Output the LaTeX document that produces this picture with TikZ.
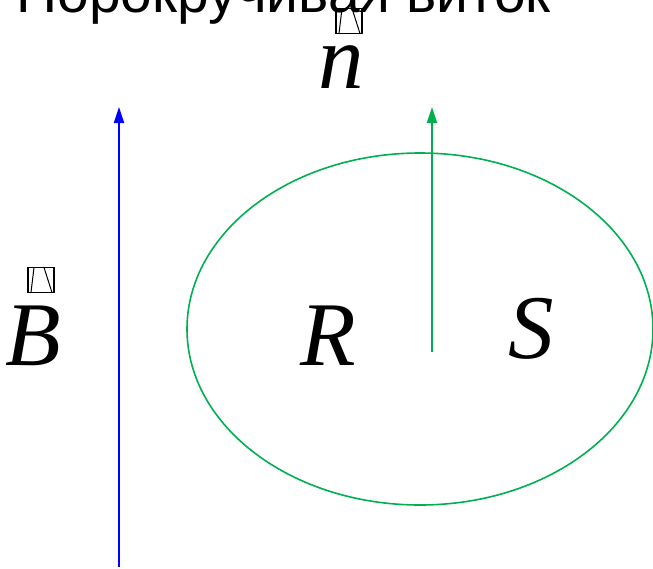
\documentclass[tikz,border=0pt]{standalone}
\usepackage{fontspec}
\setmainfont{Liberation Serif}
\newfontfamily\headfont{Liberation Sans}
\usetikzlibrary{arrows.meta,shapes.geometric}

\definecolor{loopgreen}{RGB}{0,176,80}

\begin{document}
\begin{tikzpicture}[
    x=1pt, y=-1pt,
    vec/.style={-{Triangle[length=16pt, width=10pt]}, line width=1.8pt},
    letter/.style={inner sep=0pt, font=\fontsize{91}{96}\selectfont\itshape},
    nobox/.style={draw, line width=1.2pt, minimum width=26pt, minimum height=25pt, inner sep=0pt,
      path picture={\draw[line width=1pt] ([xshift=6pt]path picture bounding box.north west) -- ([xshift=3pt]path picture bounding box.south west)
        ([xshift=-10pt]path picture bounding box.north east) -- ([xshift=-2pt]path picture bounding box.south east);}}
  ]
    \path[use as bounding box, clip] (0,0) rectangle (653,568);
    % heading, only its lower part is inside the page
    \node[anchor=base east, inner sep=0pt, font=\headfont\fontsize{57}{60}\selectfont] (head) at (551,12) {Порокручивая виток};
    % loop
    \node[draw=loopgreen, line width=1.6pt, ellipse, minimum width=466pt, minimum height=352pt, inner sep=0pt] (loop) at (420,329) {};
    % field and normal
    \coordinate (b0) at (119,567);
    \coordinate (b1) at (119,107);
    \coordinate (n0) at (432,352);
    \coordinate (n1) at (432,107);
    \draw[vec, blue] (b0) -- (b1);
    \draw[vec, loopgreen] (n0) -- (n1);
    % labels
    \node[letter, anchor=base] (lr) at (328,365) {R};
    \node[letter, anchor=base] (ls) at (531,358) {S};
    \node[letter, anchor=base] (lb) at (33,365) {B};
    \node[letter, anchor=base] (ln) at (341,88) {n};
    \node[nobox] (vn) at (349,21) {};
    \node[nobox] (vb) at (41,280) {};
  \end{tikzpicture}
\end{document}
